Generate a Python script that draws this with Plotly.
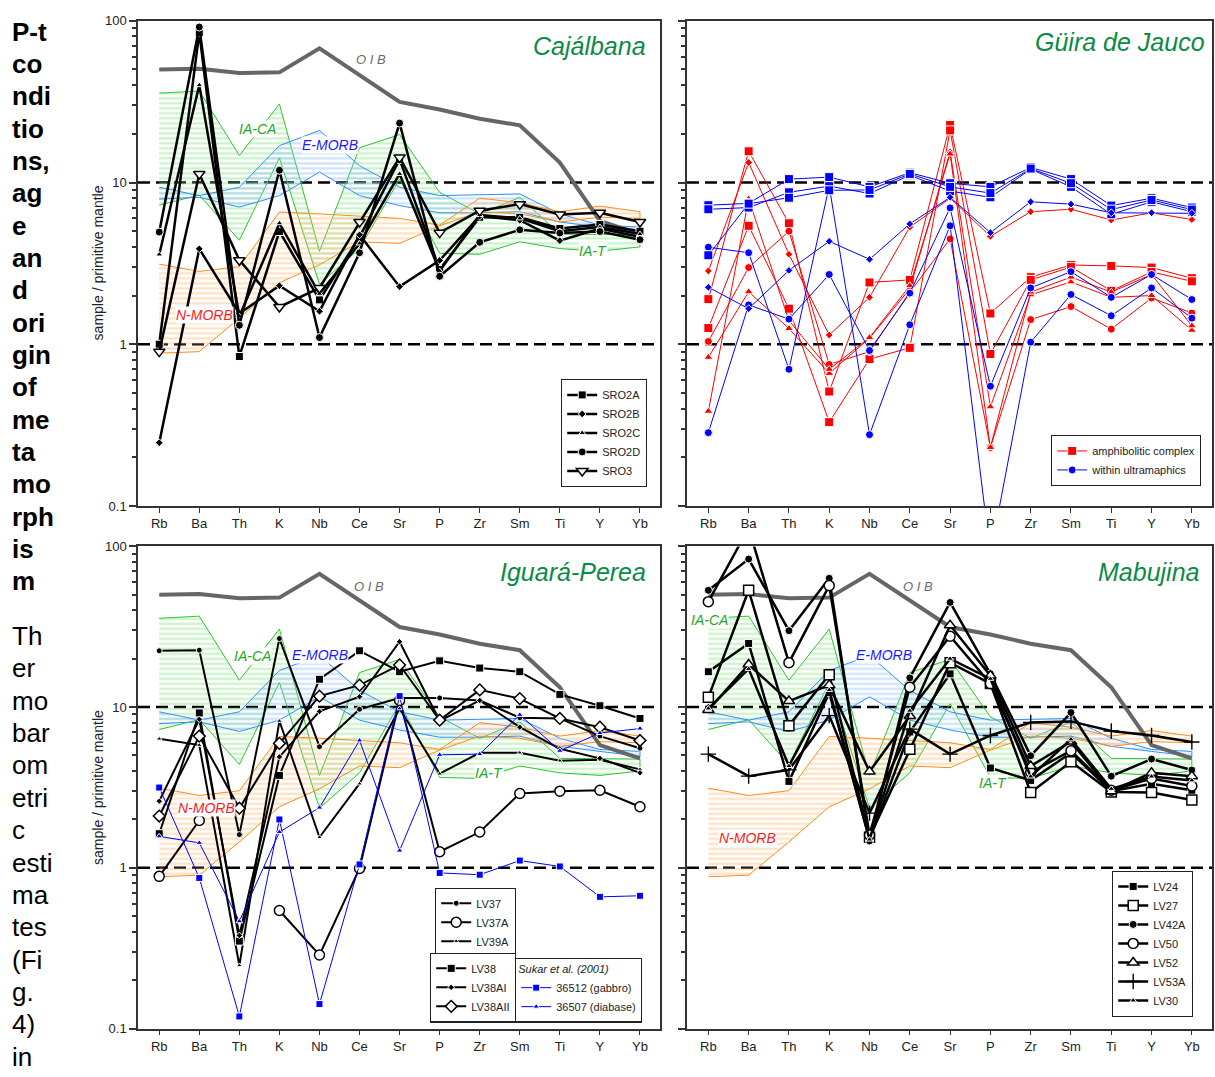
import plotly.graph_objects as go

FONT = "Liberation Sans, Arial, sans-serif"
W, H = 1215, 1077

elements = ["Rb", "Ba", "Th", "K", "Nb", "Ce", "Sr", "P", "Zr", "Sm", "Ti", "Y", "Yb"]

# ---------------- reference fields ----------------
oib = [50, 50.5, 47.5, 48, 67.5, 46.3, 31.5, 28.3, 24.8, 22.6, 13.3, 5.8, 4.8]
iaca_upper = [35.7, 36.8, 14.7, 30.6, 3.76, 16.4, 19.8, 8.7, 6.4, 8.1, 4.8, 4.75, 4.75]
iaca_lower = [7.25, 8.36, 4.4, 14.2, 2.35, 3.9, 10.5, 3.65, 3.6, 4.3, 3.9, 3.76, 4.0]
emorb_upper = [9.35, 8.3, 9.35, 16.9, 21.0, 12.7, 9.35, 8.3, 8.4, 8.5, 6.4, 5.45, 5.3]
emorb_lower = [7.9, 8.1, 7.05, 8.3, 11.6, 8.3, 7.2, 6.5, 6.5, 6.6, 5.7, 5.3, 4.95]
nmorb_upper = [3.13, 2.82, 3.02, 6.57, 6.4, 6.2, 6.0, 5.45, 8.0, 7.5, 6.6, 7.15, 6.6]
nmorb_lower = [0.88, 0.9, 1.45, 2.4, 3.1, 4.3, 4.2, 5.4, 6.6, 6.4, 5.7, 6.1, 6.0]

# ---------------- Cajálbana ----------------
sro2a = [1.0, 84.5, 0.84, 4.98, 1.88, 4.6, 13.9, 2.9, 6.1, 6.1, 5.2, 5.5, 5.0]
sro2b = [0.246, 3.89, 1.55, 2.3, 1.6, 4.75, 2.27, 3.3, 6.2, 5.85, 4.37, 5.2, 4.6]
sro2c = [3.59, 40.0, 1.49, 5.6, 2.05, 4.2, 11.3, 2.84, 6.3, 6.0, 5.0, 5.3, 4.8]
sro2d = [4.94, 91.5, 1.31, 11.9, 1.1, 3.68, 23.3, 2.63, 4.27, 5.1, 4.87, 4.98, 4.43]
sro3 = [0.9, 11.3, 3.31, 1.7, 2.23, 5.7, 14.3, 4.9, 6.7, 7.35, 6.35, 6.5, 5.7]

# ---------------- Güira de Jauco ----------------
gj_amph_sq1 = [1.9, 15.6, 5.6, 0.51, 2.41, 2.5, 22.7, 1.55, 2.6, 3.09, 3.05, 2.98, 2.56]
gj_amph_sq2 = [1.26, 5.4, 1.66, 0.33, 0.81, 0.95, 21.0, 0.87, 2.5, 3.0, 2.14, 2.8, 2.45]
gj_amph_ci1 = [1.04, 2.98, 5.0, 0.75, 0.9, 2.1, 4.48, 0.23, 1.42, 1.71, 1.24, 1.93, 1.56]
gj_amph_tr1 = [0.83, 2.11, 1.25, 0.66, 1.09, 2.2, 15.5, 0.41, 2.02, 2.43, 1.95, 2.0, 1.22]
gj_amph_tr2 = [0.385, 7.9, 1.4, 0.7, 1.1, 2.3, 15.0, 0.23, 2.1, 2.6, 2.1, 2.7, 1.3]
gj_amph_di1 = [2.84, 13.3, 3.6, 1.14, 1.95, 5.3, 8.0, 4.65, 6.6, 6.84, 5.86, 6.5, 5.9]
gj_ultra_sq1 = [7.24, 7.43, 10.5, 10.8, 9.4, 11.5, 9.9, 9.4, 12.4, 10.5, 7.2, 8.0, 7.0]
gj_ultra_sq2 = [6.83, 7.0, 8.7, 9.5, 8.55, 11.1, 8.85, 8.1, 12.1, 9.4, 6.36, 7.6, 6.6]
gj_ultra_sq3 = [3.55, 7.4, 8.05, 8.95, 9.0, 11.3, 9.4, 8.6, 12.2, 9.9, 6.8, 7.8, 6.8]
gj_ultra_ci1 = [3.98, 3.68, 0.70, 9.5, 0.276, 1.32, 5.4, 0.05, 1.03, 2.03, 1.5, 2.23, 1.45]
gj_ultra_ci2 = [0.284, 1.75, 1.43, 2.7, 0.915, 2.07, 6.97, 0.55, 2.23, 2.81, 1.95, 2.7, 1.89]
gj_ultra_di1 = [2.25, 1.66, 2.86, 4.33, 3.35, 5.55, 8.1, 4.9, 7.6, 7.35, 6.5, 6.5, 6.45]

# ---------------- Iguará-Perea ----------------
lv37 = [22.4, 22.6, 1.61, 26.7, 5.67, 9.7, 11.4, 11.4, 11.0, 8.6, 8.5, 6.6, 5.55]
lv37a = [0.885, 1.97, None, 0.543, 0.287, 0.99, 11.0, 1.26, 1.67, 2.9, 3.0, 3.04, 2.4]
lv39a = [6.35, 5.8, 0.247, 8.2, 1.55, 3.34, 9.8, 3.85, 5.2, 5.2, 4.64, 4.7, 4.1]
lv38 = [1.63, 9.2, 0.35, 3.76, 14.9, 22.4, 16.6, 19.4, 17.5, 16.6, 12.0, 10.2, 8.5]
lv38ai = [2.6, 8.4, 0.38, 4.9, 9.4, 11.6, 25.5, 8.2, 11.0, 7.5, 5.5, 4.8, 3.9]
lv38aii = [2.1, 6.6, 2.35, 5.95, 11.7, 13.7, 18.3, 8.3, 12.8, 11.3, 8.5, 7.5, 6.2]
s36512 = [3.16, 0.865, 0.119, 2.0, 0.142, 1.05, 11.7, 0.93, 0.906, 1.11, 1.02, 0.66, 0.67]
s36507 = [1.57, 1.43, 0.465, 1.67, 2.37, 6.2, 1.28, 5.05, 5.1, 8.95, 5.35, 6.9, 7.35]

# ---------------- Mabujina ----------------
lv24 = [16.6, 24.9, 3.45, 12.3, 1.5, 7.0, 16.1, 4.18, 3.5, 5.2, 3.0, 3.34, 3.04]
lv27 = [11.5, 53.3, 7.67, 15.9, 1.55, 5.47, 18.9, 14.0, 2.94, 4.57, 2.96, 2.94, 2.64]
lv42a = [53.3, 83.4, 29.9, 63.3, 1.47, 15.2, 44.8, 16.1, 4.98, 9.25, 3.72, 4.75, 4.06]
lv50 = [45.3, 130, 18.9, 57.0, 1.6, 13.3, 27.6, 14.0, 3.93, 5.35, 3.04, 3.6, 3.23]
lv52 = [9.6, 18.4, 10.9, 13.7, 3.97, 8.8, 32.3, 15.7, 4.3, 6.1, 3.0, 3.9, 3.72]
lv53a = [5.1, 3.72, 4.07, 8.85, 2.19, 7.3, 5.1, 6.66, 8.03, 8.15, 7.1, 6.66, 6.07]
lv30 = [9.8, 17.3, 4.3, 12.8, 1.5, 9.5, 20.0, 15.0, 3.7, 6.3, 3.1, 3.7, 3.5]

paragraph1 = ["P-t", "co", "ndi", "tio", "ns,", "ag", "e", "an", "d", "ori", "gin",
              "of", "me", "ta", "mo", "rph", "is", "m"]
paragraph2 = ["Th", "er", "mo", "bar", "om", "etri", "c", "esti", "ma", "tes",
              "(Fi", "g.", "4)", "in"]

fig = go.Figure()


def band(xa, ya, up, lo, lc, hc):
    fig.add_trace(go.Scatter(
        x=elements + elements[::-1], y=up + lo[::-1], xaxis=xa, yaxis=ya,
        mode="lines", line=dict(color=lc, width=1), fill="toself",
        fillcolor="rgba(255,255,255,0)",
        fillpattern=dict(shape="-", fgcolor=hc, bgcolor="rgba(255,255,255,0)",
                         size=5, solidity=0.4),
        showlegend=False, hoverinfo="skip"))


def fields(xa, ya):
    band(xa, ya, iaca_upper, iaca_lower, "#2fc42f", "#86e486")
    band(xa, ya, emorb_upper, emorb_lower, "#2e8fff", "#8fc0ff")
    band(xa, ya, nmorb_upper, nmorb_lower, "#ff8c1a", "#ffbb78")
    fig.add_trace(go.Scatter(x=elements, y=oib, xaxis=xa, yaxis=ya, mode="lines",
                             line=dict(color="#666666", width=4),
                             showlegend=False, hoverinfo="skip"))


def series(xa, ya, name, vals, symbol, size, filled, lw, color="black",
           legend="legend", showlegend=True, group=None):
    if symbol == "cross-thin":
        marker = dict(symbol=symbol, size=size, color=color,
                      line=dict(color=color, width=1.4))
    elif filled:
        marker = dict(symbol=symbol, size=size, color=color,
                      line=dict(color="white", width=1))
    else:
        marker = dict(symbol=symbol, size=size, color="white",
                      line=dict(color=color, width=1.5))
    fig.add_trace(go.Scatter(
        x=elements, y=vals, xaxis=xa, yaxis=ya, name=name, mode="lines+markers",
        line=dict(color=color, width=lw), marker=marker, connectgaps=False,
        legend=legend, showlegend=showlegend, legendgroup=group or name,
        hoverinfo="skip"))


# ---- panel 1: Cajálbana
fields("x", "y")
series("x", "y", "SRO2A", sro2a, "square", 8, True, 2.5)
series("x", "y", "SRO2B", sro2b, "diamond", 6, True, 2.5)
series("x", "y", "SRO2C", sro2c, "triangle-up", 6, True, 2.5)
series("x", "y", "SRO2D", sro2d, "circle", 8, True, 2.5)
series("x", "y", "SRO3", sro3, "triangle-down", 10, False, 2.5)

# ---- panel 2: Güira de Jauco
RED, BLUE = "#ff0000", "#0000ff"
amph = [(gj_amph_sq1, "square", 9), (gj_amph_sq2, "square", 9), (gj_amph_ci1, "circle", 8),
        (gj_amph_tr1, "triangle-up", 8), (gj_amph_tr2, "triangle-up", 8),
        (gj_amph_di1, "diamond", 6)]
ultra = [(gj_ultra_ci1, "circle", 8), (gj_ultra_sq1, "square", 9), (gj_ultra_sq2, "square", 9),
         (gj_ultra_sq3, "square", 9), (gj_ultra_ci2, "circle", 8), (gj_ultra_di1, "diamond", 6)]
for i, (v, s, sz) in enumerate(amph):
    series("x2", "y2", "amphibolitic complex" if i == 0 else "amph%d" % i, v, s, sz, True, 1,
           color=RED, legend="legend2", showlegend=(i == 0), group="amph")
for i, (v, s, sz) in enumerate(ultra):
    series("x2", "y2", "within ultramaphics" if i == 0 else "ultra%d" % i, v, s, sz, True, 1,
           color=BLUE, legend="legend2", showlegend=(i == 0), group="ultra")

# ---- panel 3: Iguará-Perea
fields("x3", "y3")
series("x3", "y3", "LV37", lv37, "circle", 6, True, 2, legend="legend3")
series("x3", "y3", "LV37A", lv37a, "circle", 10, False, 2, legend="legend3")
series("x3", "y3", "LV39A", lv39a, "triangle-up", 5, True, 2, legend="legend3")
series("x3", "y3", "LV38", lv38, "square", 8, True, 2, legend="legend4")
series("x3", "y3", "LV38AI", lv38ai, "diamond", 5, True, 2, legend="legend4")
series("x3", "y3", "LV38AII", lv38aii, "diamond", 9, False, 2, legend="legend4")
series("x3", "y3", "36512 (gabbro)", s36512, "square", 7, True, 1, color=BLUE, legend="legend5")
series("x3", "y3", "36507 (diabase)", s36507, "triangle-up", 6, True, 1, color=BLUE, legend="legend5")

# ---- panel 4: Mabujina
fields("x4", "y4")
series("x4", "y4", "LV24", lv24, "square", 8, True, 2.5, legend="legend6")
series("x4", "y4", "LV27", lv27, "square", 10, False, 2.5, legend="legend6")
series("x4", "y4", "LV42A", lv42a, "circle", 8, True, 2.5, legend="legend6")
series("x4", "y4", "LV50", lv50, "circle", 10, False, 2.5, legend="legend6")
series("x4", "y4", "LV52", lv52, "triangle-up", 10, False, 2.5, legend="legend6")
series("x4", "y4", "LV53A", lv53a, "cross-thin", 11, True, 2.5, legend="legend6")
series("x4", "y4", "LV30", lv30, "triangle-up", 6, True, 2.5, legend="legend6")

# ---------------- axes ----------------
xl = [138 / W, 660 / W]
xr = [687 / W, 1212 / W]
yt = [1 - 506 / H, 1 - 14 / H]
yb = [1 - 1036 / H, 1 - 547 / H]
minor_vals = [m * 10 ** e for e in (-1, 0, 1) for m in range(2, 10)]


def xcfg(domain, anchor):
    return dict(domain=domain, anchor=anchor, type="category", categoryorder="array",
                categoryarray=elements, range=[-0.53, 12.5], showline=True, mirror=True,
                linecolor="#333333", linewidth=1.5, ticks="outside", ticklen=5,
                tickcolor="#333333", tickwidth=1.2,
                tickfont=dict(family=FONT, size=13, color="#222222"),
                showgrid=False, zeroline=False, fixedrange=True)


def ycfg(domain, anchor, labels):
    return dict(domain=domain, anchor=anchor, type="log", range=[-1, 2], showline=True,
                mirror=True, linecolor="#333333", linewidth=1.5, ticks="outside",
                ticklen=7, tickwidth=1.5, tickcolor="#333333",
                tickmode="array", tickvals=[0.1, 1, 10, 100],
                ticktext=["0.1", "1", "10", "100"], showticklabels=labels,
                tickfont=dict(family=FONT, size=13, color="#222222"),
                minor=dict(ticks="outside", ticklen=4, tickwidth=1.5, tickcolor="#333333",
                           tickmode="array", tickvals=minor_vals, showgrid=False),
                showgrid=False, zeroline=False, fixedrange=True)


def leg(x, y, title=None):
    d = dict(x=x, y=y, xanchor="right", yanchor="bottom", xref="paper", yref="paper",
             bgcolor="white", bordercolor="#222222", borderwidth=1.2,
             font=dict(family=FONT, size=11, color="#222222"), itemwidth=30,
             tracegroupgap=0, traceorder="normal")
    if title:
        d["title"] = dict(text=title, side="top",
                          font=dict(family=FONT, size=11, color="#222222", style="italic"))
    return d


shapes = []
for yref, xref in (("y", "x"), ("y2", "x2"), ("y3", "x3"), ("y4", "x4")):
    for lvl in (1, 10):
        shapes.append(dict(type="line", xref=xref + " domain", x0=0, x1=1, yref=yref,
                           y0=lvl, y1=lvl, layer="below",
                           line=dict(color="black", width=2.5, dash="12px,6px")))

annotations = []


def ann(x, y, text, size, color, italic=False, bold=False, xanchor="center", bg=None,
        angle=0):
    a = dict(x=x / W, y=1 - y / H, xref="paper", yref="paper", text=text, showarrow=False,
             xanchor=xanchor, yanchor="middle", textangle=angle,
             font=dict(family=FONT, size=size, color=color,
                       style="italic" if italic else "normal",
                       weight="bold" if bold else "normal"))
    if bg:
        a["bgcolor"] = bg
        a["borderpad"] = 0
    annotations.append(a)


# panel titles
TITLE_GREEN = "#0a8a48"
ann(648, 40, "Cajálbana", 25, TITLE_GREEN, italic=True, xanchor="right")
ann(1207, 36, "Güira de Jauco", 25, TITLE_GREEN, italic=True, xanchor="right")
ann(648, 573, "Iguará-Perea", 25, TITLE_GREEN, italic=True, xanchor="right")
ann(1202, 573, "Mabujina", 25, TITLE_GREEN, italic=True, xanchor="right")

# field labels
LBL = 14
for (ox, oy), (cx, cy), (ex, ey), (nx, ny), (tx, ty) in [
        ((371, 53), (257, 124), (330, 140), (204, 312), (593, 247)),
        ((369, 588), (252, 658), (320, 657), (206, 812), (489, 777)),
        ((918, 588), (709, 622), (884, 657), (748, 843), (993, 787))]:
    ann(ox, oy, "O I B", 13, "#6b6b6b", italic=True)
    ann(cx, cy, "IA-CA", LBL, "#22a822", italic=True, bg="white")
    ann(ex, ey, "E-MORB", LBL, "#1a1aff", italic=True, bg="white")
    ann(nx, ny, "N-MORB", LBL, "#ff1a1a", italic=True, bg="white")
    ann(tx, ty, "IA-T", LBL, "#22a822", italic=True, bg="white")

# y-axis titles
ann(98, 260, "sample / primitive mantle", 14, "#222222", angle=-90)
ann(98, 792, "sample / primitive mantle", 14, "#222222", angle=-90)

# side text
for i, t in enumerate(paragraph1):
    ann(10, 25 + 32.8 * i, t, 26, "black", bold=True, xanchor="left")
for i, t in enumerate(paragraph2):
    ann(10, 638 + 32.8 * i, t, 26, "black", xanchor="left")

fig.update_layout(
    width=W, height=H, margin=dict(l=0, r=0, t=0, b=0),
    paper_bgcolor="white", plot_bgcolor="white",
    font=dict(family=FONT),
    xaxis=xcfg(xl, "y"), yaxis=ycfg(yt, "x", True),
    xaxis2=xcfg(xr, "y2"), yaxis2=ycfg(yt, "x2", False),
    xaxis3=xcfg(xl, "y3"), yaxis3=ycfg(yb, "x3", True),
    xaxis4=xcfg(xr, "y4"), yaxis4=ycfg(yb, "x4", False),
    legend=leg(647 / W, 1 - 487 / H),
    legend2=leg(1201 / W, 1 - 486 / H),
    legend3=leg(516 / W, 1 - 964 / H),
    legend4=leg(516 / W, 1 - 1030 / H),
    legend5=leg(642 / W, 1 - 1030 / H, title="Sukar et al. (2001)"),
    legend6=leg(1193 / W, 1 - 1024 / H),
    shapes=shapes, annotations=annotations, showlegend=True,
)

fig.write_html("out.html")
